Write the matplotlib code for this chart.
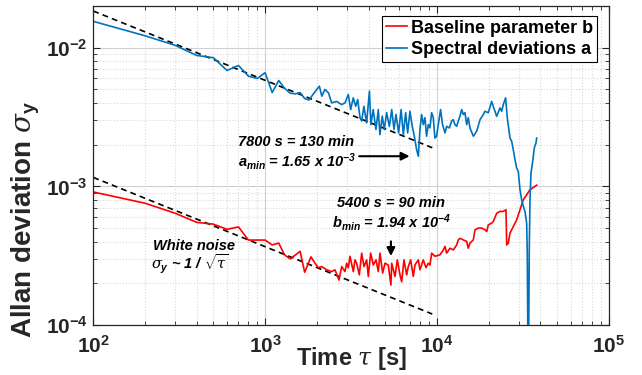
import matplotlib
matplotlib.use('Agg')
import matplotlib.pyplot as plt
from matplotlib.ticker import FuncFormatter, LogLocator, NullFormatter
import math

plt.rcParams['font.family'] = ['Liberation Sans', 'DejaVu Sans']
plt.rcParams['mathtext.fontset'] = 'custom'
plt.rcParams['mathtext.rm'] = 'Liberation Sans:bold'
plt.rcParams['mathtext.bf'] = 'Liberation Sans:bold'
plt.rcParams['mathtext.it'] = 'DejaVu Serif:italic'
plt.rcParams['mathtext.bfit'] = 'Liberation Sans:bold:italic'

# ---- data: Spectral deviations a (sigma in units of 1e-3) ----
tau_a = [100, 200, 300, 400, 500, 600, 700, 800, 900, 1000,
         1100, 1200, 1300, 1400, 1500, 1600, 1700, 1800, 1900, 2070,
         2140, 2230, 2340, 2440, 2610, 2790, 2920, 3050, 3150, 3260,
         3370, 3460, 3570, 3650, 3760, 3900, 4050, 4130, 4260, 4420,
         4560, 4660, 4810, 4940, 5100, 5290, 5460, 5630, 5780, 5990,
         6190, 6380, 6580, 6760, 6970, 7190, 7390, 7620, 7800, 7970,
         8150, 8330, 8520, 8710, 8910, 9110, 9320, 9530, 9740, 9960,
         10190, 10510, 10790, 11150, 11400, 11820, 12190, 12460, 12740, 13040,
         13320, 13630, 13940, 14250, 14570, 14910, 15230, 15580, 16300, 17050,
         17830, 18640, 19060, 19920, 20840, 21290, 22280, 23290, 23820, 24350,
         25120, 25690, 26650, 27240, 27840, 28480, 29110, 29770, 30450, 31150,
         31840, 32570, 33320, 33580, 34040, 34510, 34830, 35310, 36110, 36930,
         37770, 38100]
sig_a = [15.5, 12.2, 10.4, 8.8, 8.47, 6.86, 7.45, 6.24, 6.0, 6.6,
         4.75, 5.8, 5.1, 4.7, 4.65, 4.75, 4.3, 4.2, 4.6, 5.28,
         4.47, 5.0, 4.72, 4.0, 4.1, 3.89, 4.0, 4.6, 3.58, 4.35,
         3.78, 4.23, 3.13, 2.96, 3.78, 2.87, 4.86, 2.79, 3.58, 2.57,
         3.58, 2.36, 3.21, 2.57, 3.40, 2.71, 3.58, 2.57, 3.30, 2.43,
         3.58, 2.36, 3.40, 2.43, 3.48, 2.71, 2.30, 1.84, 1.65, 2.57,
         3.30, 2.79, 3.13, 2.30, 2.79, 2.64, 3.40, 3.13, 2.23, 2.30,
         2.79, 3.58, 2.79, 2.43, 2.71, 2.64, 2.96, 3.03, 2.79, 2.71,
         2.96, 3.21, 3.58, 3.30, 3.40, 2.79, 3.13, 2.64, 2.30, 2.50,
         3.03, 3.30, 3.48, 3.40, 4.10, 3.78, 3.20, 3.68, 3.48, 3.89,
         4.35, 3.13, 2.23, 2.12, 1.84, 1.56, 1.36, 1.28, 0.95, 0.80,
         0.72, 0.66, 0.54, 0.33, 0.03, 0.37, 0.80, 1.25, 1.51, 1.90,
         2.06, 2.23]

# ---- data: Baseline parameter b (sigma in units of 1e-3) ----
tau_b = [100, 200, 300, 400, 500, 600, 700, 800, 900, 1000,
         1100, 1200, 1300, 1400, 1500, 1600, 1700, 1850, 1950, 2040,
         2135, 2284, 2442, 2552, 2693, 2792, 2918, 2985, 3051, 3121,
         3262, 3337, 3413, 3535, 3650, 3765, 3903, 3988, 4118, 4264,
         4422, 4560, 4665, 4836, 4988, 5213, 5400, 5457, 5704, 5884,
         6098, 6238, 6434, 6671, 6816, 7039, 7288, 7456, 7793, 7973,
         8333, 8642, 8913, 9117, 9327, 9748, 10420, 10900, 11150, 11400,
         11920, 12460, 13040, 13320, 13630, 14250, 14910, 15230, 15580, 16290,
         16670, 17420, 18230, 19050, 19500, 19920, 20840, 21290, 22290, 23300,
         24350, 25250, 25490, 26040, 26640, 27840, 29140, 30460, 31840, 33330,
         34830, 36110, 37240, 38100]
sig_b = [0.911, 0.756, 0.64, 0.55, 0.534, 0.49, 0.51, 0.41, 0.41, 0.41,
         0.378, 0.39, 0.32, 0.30, 0.32, 0.34, 0.24, 0.31, 0.28, 0.259,
         0.264, 0.250, 0.243, 0.250, 0.211, 0.264, 0.243, 0.279, 0.259, 0.313,
         0.243, 0.295, 0.279, 0.230, 0.330, 0.264, 0.295, 0.224, 0.330, 0.271,
         0.295, 0.243, 0.330, 0.237, 0.279, 0.271, 0.194, 0.279, 0.224, 0.295,
         0.230, 0.205, 0.295, 0.230, 0.264, 0.295, 0.224, 0.271, 0.295, 0.250,
         0.295, 0.259, 0.279, 0.271, 0.330, 0.313, 0.321, 0.348, 0.369, 0.330,
         0.358, 0.348, 0.378, 0.411, 0.422, 0.411, 0.401, 0.358, 0.390, 0.411,
         0.486, 0.500, 0.500, 0.486, 0.472, 0.528, 0.543, 0.558, 0.640, 0.660,
         0.660, 0.678, 0.378, 0.390, 0.460, 0.513, 0.574, 0.678, 0.800, 0.870,
         0.946, 0.975, 1.00, 1.02]

# white-noise reference lines (sigma in units of 1e-3)
fit_tau = [100, 9400]
fit_a = [18.4, 1.90]
fit_b = [1.16, 0.12]

scale = 1e-3
fig = plt.figure(figsize=(6.42, 3.75), dpi=100)
ax = fig.add_axes([0.1453, 0.1333, 0.8028, 0.8507])

ax.set_xscale('log')
ax.set_yscale('log')
ax.set_xlim(1e2, 1e5)
ax.set_ylim(1e-4, 2e-2)

ax.grid(True, which='major', color='#d0d0d0', linestyle='-', linewidth=0.8)
ax.grid(True, which='minor', color='#d8d8d8', linestyle=':', linewidth=0.8)
ax.set_axisbelow(True)

ax.plot(fit_tau, [v * scale for v in fit_a], color='k', lw=1.2, dashes=(3.5, 2.5))
ax.plot(fit_tau, [v * scale for v in fit_b], color='k', lw=1.2, dashes=(3.5, 2.5))
lb, = ax.plot(tau_b, [v * scale for v in sig_b], color='#FF0000', lw=1.2,
              label='Baseline parameter b')
la, = ax.plot(tau_a, [v * scale for v in sig_a], color='#0072BD', lw=1.2,
              label='Spectral deviations a')

ax.xaxis.set_major_locator(LogLocator(base=10, numticks=10))
ax.yaxis.set_major_locator(LogLocator(base=10, numticks=10))
ax.xaxis.set_minor_locator(LogLocator(base=10, subs=range(2, 10), numticks=20))
ax.yaxis.set_minor_locator(LogLocator(base=10, subs=range(2, 10), numticks=20))
fmt = FuncFormatter(lambda v, p: r'$\mathbf{10^{%d}}$' % round(math.log10(v)))
ax.xaxis.set_major_formatter(fmt)
ax.yaxis.set_major_formatter(fmt)
ax.xaxis.set_minor_formatter(NullFormatter())
ax.yaxis.set_minor_formatter(NullFormatter())

ax.tick_params(which='both', direction='in', top=True, right=True,
               colors='#262626', labelsize=15)
ax.tick_params(which='major', length=5, width=0.8)
ax.tick_params(which='minor', length=3, width=0.6)
ax.tick_params(axis='x', pad=7)
ax.tick_params(axis='y', pad=4)
for s in ax.spines.values():
    s.set_color('#262626')
    s.set_linewidth(0.9)

ax.set_xlabel(r'Time $\tau$ [s]', fontsize=17, fontweight='bold', color='#262626')
ax.xaxis.set_label_coords(0.5, -0.105)
ax.xaxis.label.set_va('center')
fig.text(0.040, 0.415, r'Allan deviation $\sigma_{\mathbf{y}}$', rotation=90,
         fontsize=20, fontweight='bold', color='#262626', ha='center', va='center')

leg = ax.legend(handles=[lb, la], loc='upper right', bbox_to_anchor=(0.9767, 0.9687),
                borderaxespad=0, fancybox=False, edgecolor='k', framealpha=1,
                prop={'weight': 'bold', 'size': 13}, handlelength=1.2,
                handletextpad=0.2, borderpad=0.2, labelspacing=0.25)
leg.get_frame().set_linewidth(0.8)

tprops = dict(fontsize=10.5, fontweight='bold', style='italic', color='k')
ax.text(700, 2.1e-3, '7800 s = 130 min', ha='left', va='center', **tprops)
ax.text(700, 1.5e-3, r'$\mathbfit{a}_{\mathbfit{min}}$ = 1.65 x 10$^{\mathbfit{-3}}$',
        ha='left', va='center', **tprops)
ax.annotate('', xy=(7200, 1.65e-3), xytext=(3400, 1.65e-3),
            arrowprops=dict(arrowstyle='-|>', color='k', lw=1.5, mutation_scale=12))

ax.text(2610, 7.6e-4, '5400 s = 90 min', ha='left', va='center', **tprops)
ax.text(2440, 5.5e-4, r'$\mathbfit{b}_{\mathbfit{min}}$ = 1.94 x 10$^{\mathbfit{-4}}$',
        ha='left', va='center', **tprops)
ax.annotate('', xy=(5400, 3.0e-4), xytext=(5400, 4.2e-4),
            arrowprops=dict(arrowstyle='-|>', color='k', lw=1.5, mutation_scale=12))

ax.text(222, 3.73e-4, 'White noise', ha='left', va='center', **tprops)
ax.text(218, 2.75e-4, r'$\sigma_{\mathbfit{y}}$ ~ 1 / $\sqrt{\tau}$', ha='left',
        va='center', **tprops)

fig.savefig('out.png', dpi=100)
